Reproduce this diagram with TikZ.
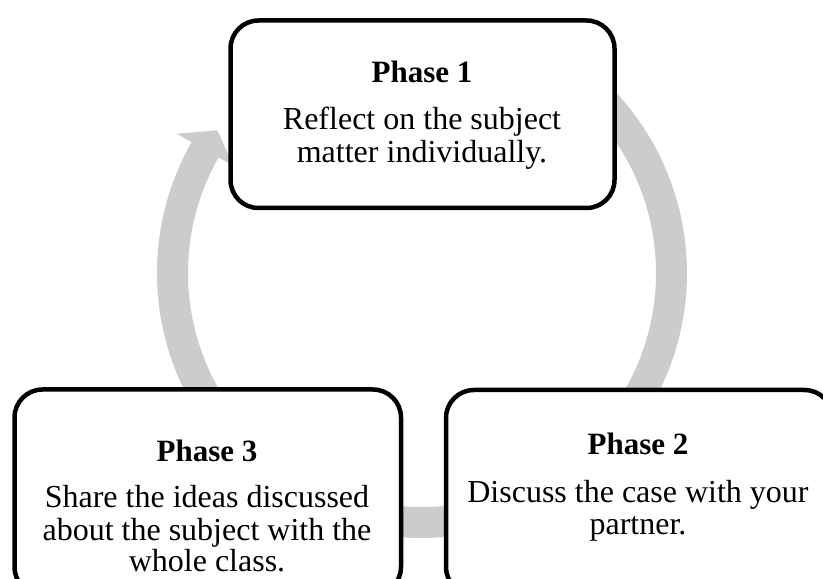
\documentclass[tikz,border=0pt]{standalone}
\usepackage{fontspec}
\setmainfont{Liberation Serif}
\usetikzlibrary{calc}
\definecolor{ringgray}{RGB}{204,204,204}
\tikzset{
  phasebox/.style={draw=black, fill=white, line width=4.5pt, rounded corners=28pt, inner sep=0pt},
  headline/.style={anchor=base, inner sep=0pt, font=\fontsize{31}{34}\selectfont\bfseries},
  bodyline/.style={anchor=base, inner sep=0pt, font=\fontsize{32}{34}\selectfont},
}
\begin{document}
\begin{tikzpicture}[x=1pt,y=1pt]
\useasboundingbox (0,0) rectangle (823,579);
\clip (0,0) rectangle (823,579);

% cycle ring with a single arrow head pointing into Phase 1
\coordinate (C) at (422,306);
\fill[ringgray]
  ($(C)+(150.4:265pt)$) arc[start angle=150.4, end angle=410, radius=265pt]
  -- ($(C)+(410:234pt)$) arc[start angle=410, end angle=150.4, radius=234pt]
  -- ($(C)+(150.4:217pt)$) -- ($(C)+(145.1:249.5pt)$) -- ($(C)+(150.4:282pt)$) -- cycle;

% phase boxes
\node[phasebox, minimum width=384pt, minimum height=187.5pt] (box1) at (422.5,464.75) {};
\node[phasebox, minimum width=386.5pt, minimum height=205.5pt] (box3) at (207.75,86.75) {};
\node[phasebox, minimum width=386.5pt, minimum height=205pt] (box2) at (639.25,86.5) {};

% Phase 1
\node[headline] (t1) at (422,496) {Phase 1};
\node[bodyline] (t1a) at (422,449) {Reflect on the subject};
\node[bodyline] (t1b) at (422,416) {matter individually.};

% Phase 2
\node[headline] (t2) at (638,124) {Phase 2};
\node[bodyline] (t2a) at (638,76) {Discuss the case with your};
\node[bodyline] (t2b) at (638,44) {partner.};

% Phase 3
\node[headline] (t3) at (207,117) {Phase 3};
\node[bodyline] (t3a) at (207,71) {Share the ideas discussed};
\node[bodyline] (t3b) at (207,38.5) {about the subject with the};
\node[bodyline] (t3c) at (207,7) {whole class.};
\end{tikzpicture}
\end{document}
